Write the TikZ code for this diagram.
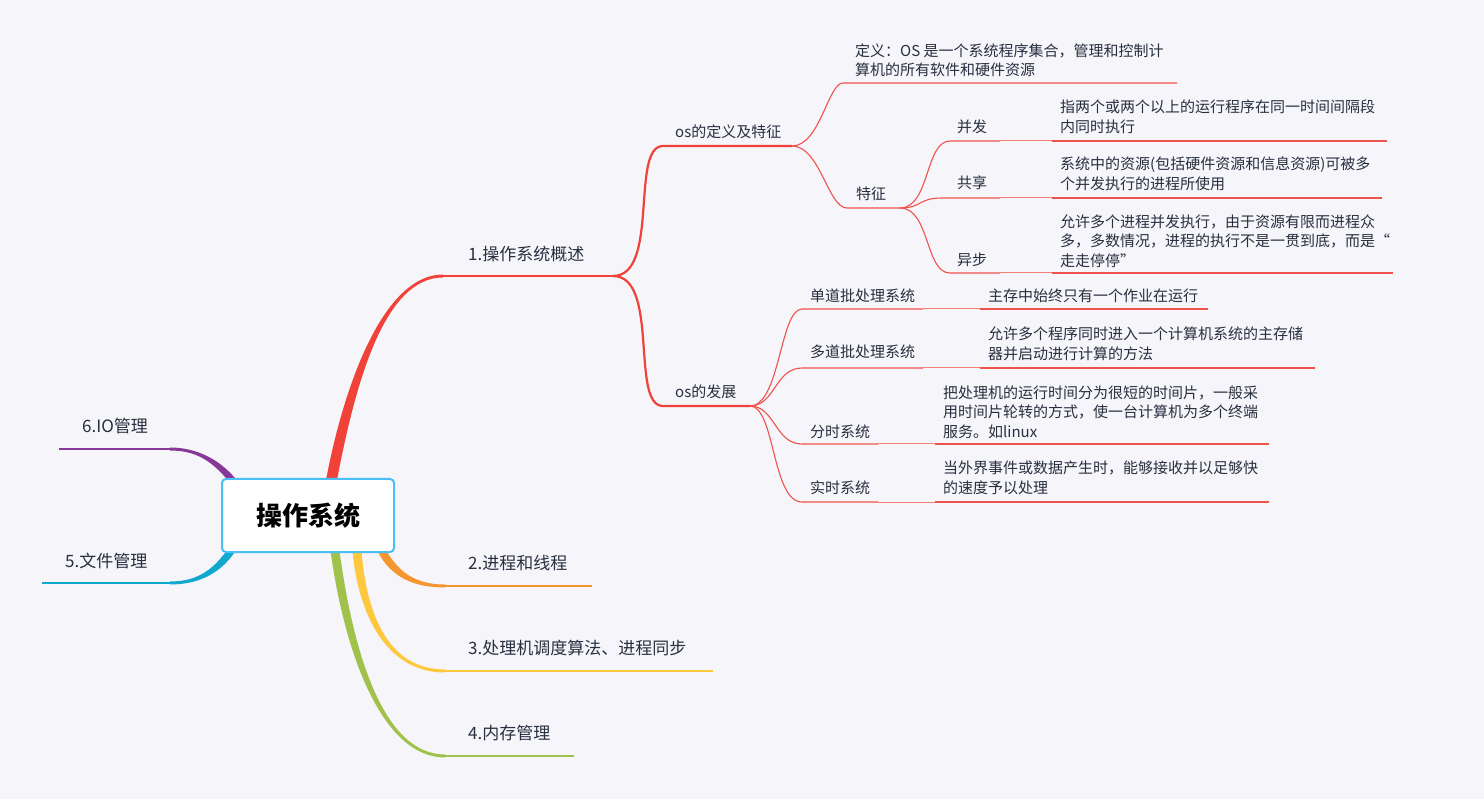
\documentclass[tikz,border=0pt]{standalone}
\usepackage{fontspec}
\setmainfont{Noto Sans CJK SC}
\usetikzlibrary{calc}
\definecolor{bg}{RGB}{245,245,250}
\definecolor{txt}{RGB}{40,47,62}
\definecolor{rootb}{RGB}{72,192,245}
\definecolor{cred}{RGB}{240,66,56}
\definecolor{tred}{RGB}{240,82,76}
\definecolor{lred}{RGB}{244,128,122}
\definecolor{corange}{RGB}{246,150,48}
\definecolor{cyellow}{RGB}{253,200,62}
\definecolor{cgreen}{RGB}{160,194,76}
\definecolor{ccyan}{RGB}{16,168,204}
\definecolor{cpurple}{RGB}{136,56,152}
\tikzset{
  lone/.style={anchor=west, inner sep=0pt, text=txt, font=\fontsize{17}{20}\selectfont},
  ltwo/.style={anchor=west, inner sep=0pt, text=txt, font=\fontsize{15}{19.5}\selectfont, align=left},
  rootbox/.style={draw=rootb, line width=2pt, fill=white, rounded corners=4pt, minimum width=172pt, minimum height=73pt, inner sep=0pt, font=\fontsize{26}{30}\selectfont\bfseries, text=black},
  uline/.style={line width=2.5pt},
  mline/.style={draw=cred, line width=2.2pt},
  thinline/.style={draw=tred, line width=1.1pt},
  lightline/.style={draw=lred, line width=1pt},
}
\begin{document}
\begin{tikzpicture}[x=1pt,y=-1pt]
\useasboundingbox (0,0) rectangle (1484,799);
\fill[bg] (0,0) rectangle (1484,799);

% ---------- coordinates ----------
\coordinate (r0) at (331.5,480);
\coordinate (a1s) at (443,276);  \coordinate (a1e) at (613,276);
\coordinate (b1s) at (663,146);  \coordinate (b1e) at (792,146);
\coordinate (b2s) at (663,406);  \coordinate (b2e) at (750,406);
\coordinate (c1s) at (843,83);   \coordinate (c1e) at (1177,83);
\coordinate (c2s) at (847,208);  \coordinate (c2e) at (900,208);
\coordinate (d1s) at (950,141);  \coordinate (d1e) at (1000,141);
\coordinate (e1s) at (1052,141); \coordinate (e1e) at (1387,141);
\coordinate (d2s) at (942,198);  \coordinate (d2e) at (1000,198);
\coordinate (e2s) at (1052,198); \coordinate (e2e) at (1382,198);
\coordinate (d3s) at (950,273);  \coordinate (d3e) at (1000,273);
\coordinate (e3s) at (1052,273); \coordinate (e3e) at (1393,273);
\coordinate (f1s) at (802,309);  \coordinate (f1e) at (923,309);
\coordinate (g1s) at (980,309);  \coordinate (g1e) at (1208,309);
\coordinate (f2s) at (802,368);  \coordinate (f2e) at (923,368);
\coordinate (g2s) at (980,368);  \coordinate (g2e) at (1315,368);
\coordinate (f3s) at (802,444);  \coordinate (f3e) at (878,444);
\coordinate (g3s) at (935,444);  \coordinate (g3e) at (1269,444);
\coordinate (f4s) at (802,502);  \coordinate (f4e) at (878,502);
\coordinate (g4s) at (935,502);  \coordinate (g4e) at (1269,502);
\coordinate (p0) at (233,481);   \coordinate (h6s) at (170,449); \coordinate (h6e) at (59,449);
\coordinate (q0) at (231,551);   \coordinate (h5s) at (170,583); \coordinate (h5e) at (42,583);
\coordinate (o0) at (382,551);   \coordinate (h2s) at (445,586); \coordinate (h2e) at (592,586);
\coordinate (y0) at (357,551);   \coordinate (h3s) at (445,671); \coordinate (h3e) at (713,671);
\coordinate (gr0) at (335,551);  \coordinate (h4s) at (445,756); \coordinate (h4e) at (574,756);

% ---------- thick main branches ----------
\fill[cred] ($(r0)+(-5.5,0)$) .. controls (345,380) and (385,274.5) .. ($(a1s)+(0,-1.5)$)
  -- ($(a1s)+(0,1.5)$) .. controls (385,277.5) and (356,380) .. ($(r0)+(5.5,0)$) -- cycle;
\draw[cred,uline] (a1s) -- (a1e);

\fill[cpurple] ($(p0)+(4.5,0)$) .. controls (219,458) and (195,447.5) .. ($(h6s)+(0,-1.5)$)
  -- ($(h6s)+(0,1.5)$) .. controls (195,450.5) and (211,460) .. ($(p0)+(-4.5,0)$) -- cycle;
\draw[cpurple,uline] (h6s) -- (h6e);

\fill[ccyan] ($(q0)+(4.5,0)$) .. controls (219,576) and (195,584.5) .. ($(h5s)+(0,1.5)$)
  -- ($(h5s)+(0,-1.5)$) .. controls (195,581.5) and (211,572) .. ($(q0)+(-4.5,0)$) -- cycle;
\draw[ccyan,uline] (h5s) -- (h5e);

\fill[corange] ($(o0)+(-4.5,0)$) .. controls (391,578) and (415,587.5) .. ($(h2s)+(0,1.5)$)
  -- ($(h2s)+(0,-1.5)$) .. controls (415,584.5) and (399,572) .. ($(o0)+(4.5,0)$) -- cycle;
\draw[corange,uline] (h2s) -- (h2e);

\fill[cyellow] ($(y0)+(-4.5,0)$) .. controls (358,612) and (385,672.5) .. ($(h3s)+(0,1.5)$)
  -- ($(h3s)+(0,-1.5)$) .. controls (385,669.5) and (366,608) .. ($(y0)+(4.5,0)$) -- cycle;
\draw[cyellow,uline] (h3s) -- (h3e);

\fill[cgreen] ($(gr0)+(-4.5,0)$) .. controls (346,662) and (385,757.5) .. ($(h4s)+(0,1.5)$)
  -- ($(h4s)+(0,-1.5)$) .. controls (385,754.5) and (354,658) .. ($(gr0)+(4.5,0)$) -- cycle;
\draw[cgreen,uline] (h4s) -- (h4e);

% ---------- root ----------
\node[rootbox] (root) at (308,515.5) {操作系统};

% ---------- level 1 labels ----------
\node[lone] (t1) at (468,254) {1.操作系统概述};
\node[lone] (t2) at (468,563) {2.进程和线程};
\node[lone] (t3) at (468,648) {3.处理机调度算法、进程同步};
\node[lone] (t4) at (468,733) {4.内存管理};
\node[lone] (t5) at (65,561) {5.文件管理};
\node[lone] (t6) at (82,426) {6.IO管理};

% ---------- level 2 ----------
\draw[mline] (a1e) .. controls (660,276) and (630,146) .. (b1s) -- (b1e);
\draw[mline] (a1e) .. controls (660,276) and (630,406) .. (b2s) -- (b2e);
\node[ltwo] (s1) at (675,132) {os的定义及特征};
\node[ltwo] (s2) at (675,392) {os的发展};

% ---------- os的定义及特征 children ----------
\draw[thinline] (b1e) .. controls (820,146) and (828,83) .. (c1s) -- (c1e);
\draw[thinline] (b1e) .. controls (820,146) and (828,208) .. (c2s) -- (c2e);
\node[ltwo] (def) at (855,60.5) {定义：OS 是一个系统程序集合，管理和控制计\\算机的所有软件和硬件资源};
\node[ltwo] (feat) at (856,194) {特征};

\draw[thinline] (c2e) .. controls (930,208) and (925,141) .. (d1s) -- (d1e);
\draw[thinline] (c2e) .. controls (922,208) and (918,198) .. (d2s) -- (d2e);
\draw[thinline] (c2e) .. controls (930,208) and (925,273) .. (d3s) -- (d3e);
\draw[lightline] (d1e) -- (e1s);
\draw[lightline] (d2e) -- (e2s);
\draw[lightline] (d3e) -- (e3s);
\draw[thinline] (e1s) -- (e1e);
\draw[thinline] (e2s) -- (e2e);
\draw[thinline] (e3s) -- (e3e);
\node[ltwo] (k1) at (957,127) {并发};
\node[ltwo] (k2) at (957,183) {共享};
\node[ltwo] (k3) at (957,260) {异步};
\node[ltwo] (k1d) at (1060,117) {指两个或两个以上的运行程序在同一时间间隔段\\内同时执行};
\node[ltwo] (k2d) at (1060,174) {系统中的资源(包括硬件资源和信息资源)可被多\\个并发执行的进程所使用};
\node[ltwo] (k3d) at (1060,241) {允许多个进程并发执行，由于资源有限而进程众\\多，多数情况，进程的执行不是一贯到底，而是“\\走走停停”};

% ---------- os的发展 children ----------
\draw[thinline] (b2e) .. controls (780,406) and (780,309) .. (f1s) -- (f1e);
\draw[thinline] (b2e) .. controls (775,406) and (775,368) .. (f2s) -- (f2e);
\draw[thinline] (b2e) .. controls (775,406) and (775,444) .. (f3s) -- (f3e);
\draw[thinline] (b2e) .. controls (775,406) and (772,502) .. (f4s) -- (f4e);
\draw[lightline] (f1e) -- (g1s);
\draw[lightline] (f2e) -- (g2s);
\draw[lightline] (f3e) -- (g3s);
\draw[lightline] (f4e) -- (g4s);
\draw[thinline] (g1s) -- (g1e);
\draw[thinline] (g2s) -- (g2e);
\draw[thinline] (g3s) -- (g3e);
\draw[thinline] (g4s) -- (g4e);
\node[ltwo] (m1) at (810,296) {单道批处理系统};
\node[ltwo] (m2) at (810,352) {多道批处理系统};
\node[ltwo] (m3) at (810,432) {分时系统};
\node[ltwo] (m4) at (810,488) {实时系统};
\node[ltwo] (m1d) at (988,296) {主存中始终只有一个作业在运行};
\node[ltwo] (m2d) at (988,344) {允许多个程序同时进入一个计算机系统的主存储\\器并启动进行计算的方法};
\node[ltwo] (m3d) at (943,412) {把处理机的运行时间分为很短的时间片，一般采\\用时间片轮转的方式，使一台计算机为多个终端\\服务。如linux};
\node[ltwo] (m4d) at (943,478) {当外界事件或数据产生时，能够接收并以足够快\\的速度予以处理};
\end{tikzpicture}
\end{document}
